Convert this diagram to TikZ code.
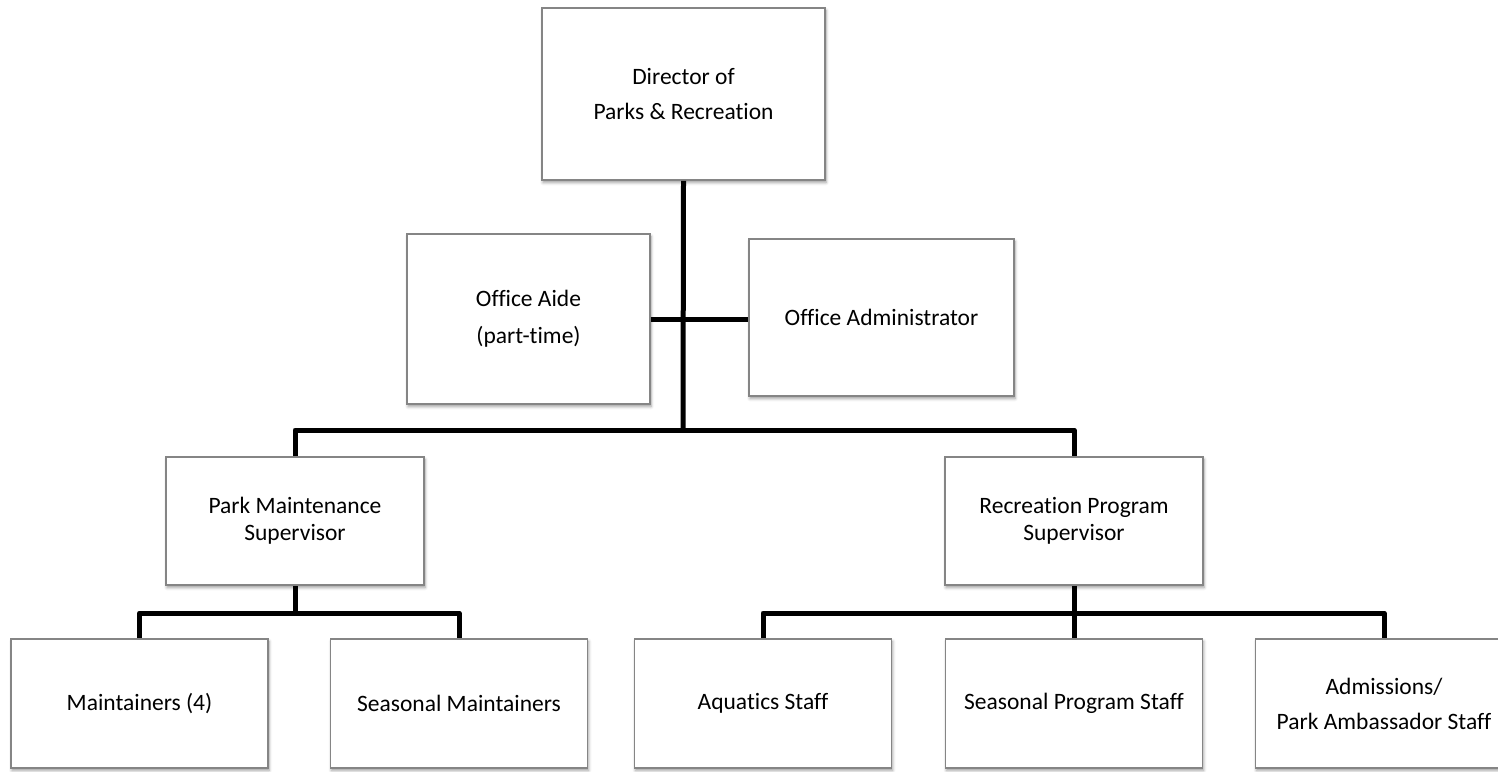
\documentclass[tikz,border=0pt]{standalone}
\usepackage{fontspec}
\setmainfont{Carlito}[Ligatures=NoCommon]
\usetikzlibrary{shadows.blur}
\definecolor{boxgray}{HTML}{858585}
\tikzset{
  orgbox/.style={draw=boxgray, line width=1.6pt, fill=white, rectangle,
    align=center, inner sep=0pt,
    font=\fontsize{23.5}{27}\selectfont,
    blur shadow={shadow xshift=1pt, shadow yshift=-2.5pt,
      shadow blur radius=3pt, shadow opacity=40}},
  conn/.style={line width=5pt, draw=black, line join=round}
}
\begin{document}
\begin{tikzpicture}[x=1pt, y=-1pt]
  \useasboundingbox (0,0) rectangle (1498,771);

  % top level
  \node[orgbox, minimum width=283pt, minimum height=172pt] (dir) at (683.5,94)
    {Director of\\[8pt]Parks \& Recreation};

  % office staff
  \node[orgbox, minimum width=243pt, minimum height=170pt] (aide) at (528.5,319)
    {Office Aide\\[10pt](part-time)};
  \node[orgbox, minimum width=265pt, minimum height=157pt] (admin) at (881.5,317.5)
    {Office Administrator};

  % supervisors
  \node[orgbox, minimum width=258pt, minimum height=128pt] (pms) at (295,521)
    {Park Maintenance\\Supervisor};
  \node[orgbox, minimum width=258pt, minimum height=128pt] (rps) at (1074,521)
    {Recreation Program\\Supervisor};

  % staff row
  \node[orgbox, minimum width=257pt, minimum height=129pt] (maint) at (139.5,703.5)
    {Maintainers (4)};
  \node[orgbox, minimum width=257pt, minimum height=129pt] (smaint) at (459,703.5)
    {Seasonal Maintainers};
  \node[orgbox, minimum width=257pt, minimum height=129pt] (aqua) at (763,703.5)
    {Aquatics Staff};
  \node[orgbox, minimum width=257pt, minimum height=129pt] (sprog) at (1074,703.5)
    {Seasonal Program Staff};
  \node[orgbox, minimum width=257pt, minimum height=129pt] (adm) at (1384,703.5)
    {Admissions/\\[8pt]Park Ambassador Staff};

  % junction points
  \coordinate (hub) at (683,430);
  \coordinate (pmsjoin) at (295,613);
  \coordinate (rpsjoin) at (1074,613);

  % connectors
  \draw[conn] (dir.south) -- (hub);
  \draw[conn] (aide.east) -- (aide.east -| admin.west);
  \draw[conn] (pms.north) |- (hub) -| (rps.north);
  \draw[conn] (pms.south) -- (pmsjoin);
  \draw[conn] (maint.north) |- (pmsjoin) -| (smaint.north);
  \draw[conn] (rps.south) -- (rpsjoin);
  \draw[conn] (aqua.north) |- (rpsjoin) -| (adm.north);
  \draw[conn] (sprog.north) -- (rpsjoin);
\end{tikzpicture}
\end{document}
